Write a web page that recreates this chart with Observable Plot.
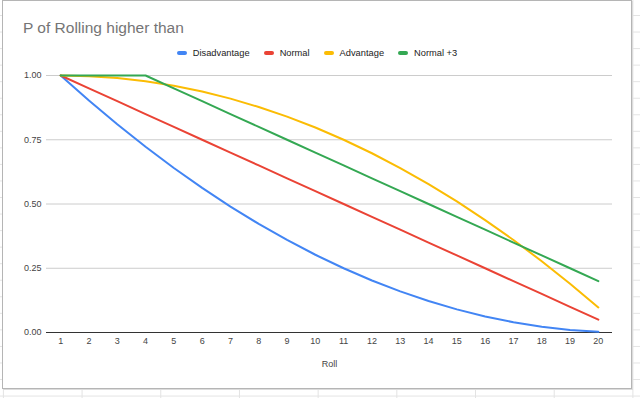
<!DOCTYPE html>
<html>
<head>
<meta charset="utf-8">
<script src="https://cdn.jsdelivr.net/npm/d3@7"></script>
<script src="https://cdn.jsdelivr.net/npm/@observablehq/plot@0.6"></script>
<style>
  html, body { margin: 0; padding: 0; background: #fff; }
  #page {
    position: relative; width: 640px; height: 398px; overflow: hidden;
    background-color: #fff;
    background-image: linear-gradient(to right, #e3e3e3 1px, transparent 1px),
                      linear-gradient(to bottom, #e3e3e3 1px, transparent 1px);
    background-size: 78.7px 16.55px;
    background-position: 2.9px 15px;
    font-family: "Liberation Sans", Arial, sans-serif;
  }
  #box {
    position: absolute; left: 2px; top: 0px; width: 628px; height: 387px;
    border: 1px solid #b5b5b5; background: #fff;
    box-shadow: 1px 1px 0 #dcdcdc;
  }
  #title {
    position: absolute; left: 23px; top: 20px; font-size: 15.5px; line-height: 15.5px;
    color: #757575; white-space: nowrap;
  }
  #legend {
    position: absolute; left: 2px; width: 630px; top: 46px; height: 13px;
    display: flex; justify-content: center; align-items: center; gap: 14px;
    font-size: 9.3px; color: #222;
  }
  .item { display: flex; align-items: center; gap: 6px; white-space: nowrap; }
  .sw { width: 10px; height: 4px; border-radius: 2px; display: inline-block; }
  #chart { position: absolute; left: 0; top: 0; }
</style>
</head>
<body>
<div id="page">
  <div id="box"></div>
  <div id="title">P of Rolling higher than</div>
  <div id="legend"></div>
  <div id="chart"></div>
</div>
<script>
const rolls = [1, 2, 3, 4, 5, 6, 7, 8, 9, 10, 11, 12, 13, 14, 15, 16, 17, 18, 19, 20];
const seriesNames = ["Disadvantage", "Normal", "Advantage", "Normal +3"];
const seriesColors = ["#4285F4", "#EA4335", "#FBBC04", "#34A853"];
const disadvantage = [1, 0.9025, 0.81, 0.7225, 0.64, 0.5625, 0.49, 0.4225, 0.36, 0.3025, 0.25, 0.2025, 0.16, 0.1225, 0.09, 0.0625, 0.04, 0.0225, 0.01, 0.0025];
const normal = [1, 0.95, 0.9, 0.85, 0.8, 0.75, 0.7, 0.65, 0.6, 0.55, 0.5, 0.45, 0.4, 0.35, 0.3, 0.25, 0.2, 0.15, 0.1, 0.05];
const advantage = [1, 0.9975, 0.99, 0.9775, 0.96, 0.9375, 0.91, 0.8775, 0.84, 0.7975, 0.75, 0.6975, 0.64, 0.5775, 0.51, 0.4375, 0.36, 0.2775, 0.19, 0.0975];
const normalPlus3 = [1, 1, 1, 1, 0.95, 0.9, 0.85, 0.8, 0.75, 0.7, 0.65, 0.6, 0.55, 0.5, 0.45, 0.4, 0.35, 0.3, 0.25, 0.2];
const yTicks = [0, 0.25, 0.5, 0.75, 1];
const xLabel = "Roll";
const title = "P of Rolling higher than";

const allValues = [disadvantage, normal, advantage, normalPlus3];
const data = seriesNames.map((name, i) => rolls.map((r, j) => ({series: name, roll: r, p: allValues[i][j]})));

document.getElementById("title").textContent = title;

const legend = document.getElementById("legend");
seriesNames.forEach((name, i) => {
  const item = document.createElement("div");
  item.className = "item";
  const sw = document.createElement("span");
  sw.className = "sw";
  sw.style.background = seriesColors[i];
  const t = document.createElement("span");
  t.textContent = name;
  item.appendChild(sw);
  item.appendChild(t);
  legend.appendChild(item);
});

const chart = Plot.plot({
  width: 640,
  height: 398,
  marginTop: 75,
  marginBottom: 66,
  marginLeft: 46,
  marginRight: 28,
  style: {background: "transparent", fontFamily: "'Liberation Sans', Arial, sans-serif", fontSize: "9px", color: "#444", overflow: "visible"},
  x: {type: "point", domain: rolls, padding: 0.5, round: false, label: null},
  y: {domain: [0, 1], label: null},
  color: {domain: seriesNames, range: seriesColors},
  marks: [
    Plot.gridY(yTicks.filter(d => d > 0), {stroke: "#cccccc", strokeOpacity: 1}),
    Plot.axisY(yTicks, {tickSize: 0, tickPadding: 5, tickFormat: d3.format(".2f"), label: null}),
    Plot.axisX(rolls, {tickSize: 0, tickPadding: 5, label: xLabel, labelAnchor: "center", labelArrow: "none", labelOffset: 34, fill: "#444"}),
    Plot.ruleY([0], {stroke: "#333", strokeWidth: 1}),
    ...data.map(d => Plot.line(d, {x: "roll", y: "p", stroke: "series", strokeWidth: 2}))
  ]
});
document.getElementById("chart").appendChild(chart);
</script>
</body>
</html>
